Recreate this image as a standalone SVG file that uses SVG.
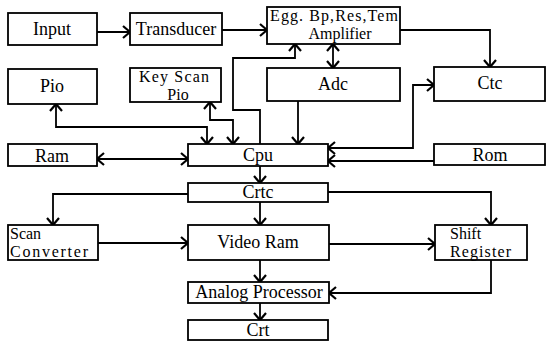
<svg xmlns="http://www.w3.org/2000/svg" width="546" height="342" viewBox="0 0 546 342">
<defs>
<marker id="ah" markerUnits="userSpaceOnUse" markerWidth="20" markerHeight="20" refX="0" refY="0" viewBox="-10 -10 20 20" orient="auto-start-reverse">
<path d="M-7,-6 L0,0 L-7,6" fill="none" stroke="#000" stroke-width="2.2"/>
</marker>
</defs>
<style>
.box{fill:#fff;stroke:#000;stroke-width:1.8}
text{font-family:"Liberation Serif","Times New Roman",serif;font-size:18px;fill:#000}
.s{font-size:16px}
.c{text-anchor:middle}
.ln{fill:none;stroke:#000;stroke-width:1.8}
.e{marker-end:url(#ah)}
.b{marker-start:url(#ah);marker-end:url(#ah)}
</style>
<rect width="546" height="342" fill="#fff"/>
<g id="connectors">
<path class="ln e" d="M97,32 H130"/>
<path class="ln e" d="M222,30 H267"/>
<path class="ln e" d="M400,30 H490 V67"/>
<path class="ln b" d="M333,44 V68"/>
<path class="ln e" d="M260,144 V110 H233 V58 H295 V44"/>
<path class="ln e" d="M298,101 V144"/>
<path class="ln b" d="M56,104 V127 H207 V144"/>
<path class="ln b" d="M210,102 V120 H233 V144"/>
<path class="ln b" d="M97,159 H188"/>
<path class="ln b" d="M328,148 H413 V85 H434"/>
<path class="ln e" d="M434,161 H328"/>
<path class="ln e" d="M260,166 V183"/>
<path class="ln e" d="M188,194 H53 V225"/>
<path class="ln e" d="M260,202 V225"/>
<path class="ln e" d="M328,192 H491 V225"/>
<path class="ln e" d="M98,243 H188"/>
<path class="ln e" d="M329,244 H435"/>
<path class="ln e" d="M260,260 V282"/>
<path class="ln e" d="M491,260 V293 H329"/>
<path class="ln e" d="M260,303 V320"/>
</g>
<g id="input"><rect class="box" x="8" y="13" width="89" height="32"/><text class="c" x="52" y="35">Input</text></g>
<g id="transducer"><rect class="box" x="130" y="13" width="92" height="32"/><text class="c" x="176" y="35">Transducer</text></g>
<g id="amplifier"><rect class="box" x="267" y="7" width="133" height="37"/><text class="c s" x="334" y="21" textLength="128">Egg. Bp,Res,Tem</text><text class="c s" x="340" y="39">Amplifier</text></g>
<g id="pio"><rect class="box" x="8" y="69" width="89" height="35"/><text class="c" x="52" y="92">Pio</text></g>
<g id="keyscanpio"><rect class="box" x="130" y="68" width="91" height="34"/><text class="c s" x="174" y="82" textLength="70">Key Scan</text><text class="c s" x="178" y="100">Pio</text></g>
<g id="adc"><rect class="box" x="267" y="68" width="133" height="33"/><text class="c" x="333" y="90">Adc</text></g>
<g id="ctc"><rect class="box" x="434" y="67" width="111" height="34"/><text class="c" x="490" y="89">Ctc</text></g>
<g id="ram"><rect class="box" x="8" y="144" width="89" height="22"/><text class="c" x="52" y="162">Ram</text></g>
<g id="cpu"><rect class="box" x="188" y="144" width="140" height="22"/><text class="c" x="258" y="161">Cpu</text></g>
<g id="rom"><rect class="box" x="434" y="144" width="111" height="21"/><text class="c" x="490" y="161">Rom</text></g>
<g id="crtc"><rect class="box" x="188" y="183" width="140" height="19"/><text class="c" x="258" y="198">Crtc</text></g>
<g id="scanconverter"><rect class="box" x="8" y="225" width="90" height="35"/><text class="s" x="10" y="239">Scan</text><text class="s" x="10" y="257" textLength="78">Converter</text></g>
<g id="videoram"><rect class="box" x="188" y="225" width="141" height="35"/><text class="c" x="258" y="248">Video Ram</text></g>
<g id="shiftregister"><rect class="box" x="435" y="225" width="92" height="35"/><text class="s" x="450" y="239">Shift</text><text class="s" x="450" y="257" textLength="61">Register</text></g>
<g id="analogprocessor"><rect class="box" x="188" y="282" width="141" height="21"/><text class="c" x="259" y="298">Analog Processor</text></g>
<g id="crt"><rect class="box" x="188" y="320" width="140" height="20"/><text class="c" x="258" y="336">Crt</text></g>
</svg>
